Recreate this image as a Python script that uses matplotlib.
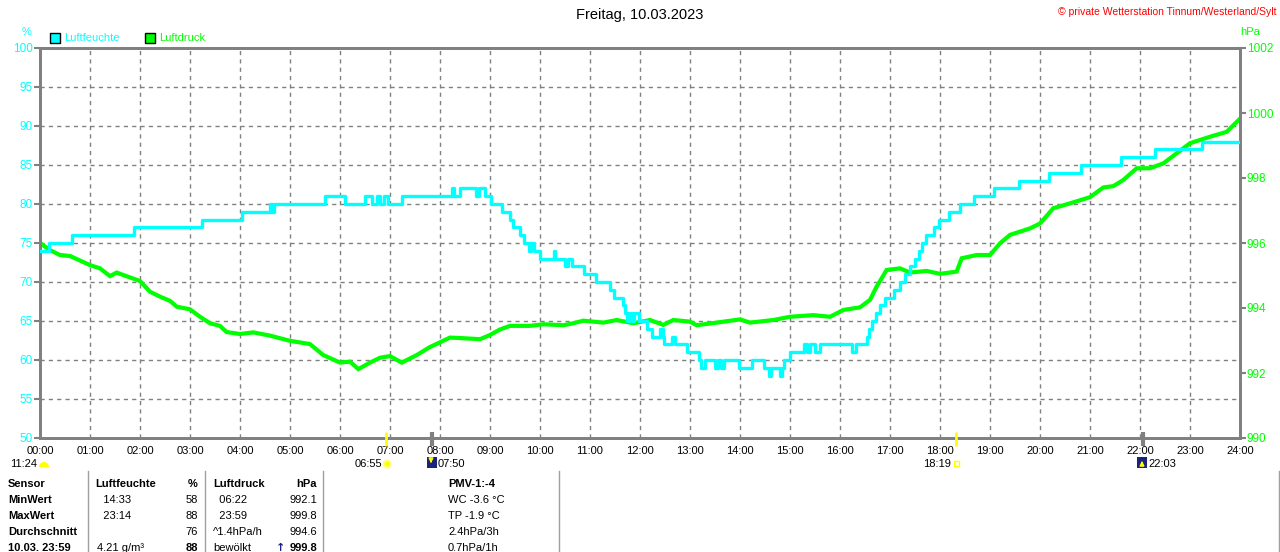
import matplotlib
matplotlib.use("Agg")
import matplotlib.pyplot as plt
from matplotlib.patches import Rectangle, Circle, Wedge

plt.rcParams['font.family'] = ['Liberation Sans', 'DejaVu Sans']

# === Daten: Luftfeuchte (Stufen, Zeit in Stunden) ===
feuchte_zeit = [0.0, 0.17, 0.63, 1.87, 3.23, 4.03, 4.6, 4.63, 4.68, 5.7, 6.1, 6.5, 6.63,
                6.73, 6.8, 6.87, 6.95, 7.23, 8.23, 8.27, 8.4, 8.72, 8.77, 8.9, 9.03,
                9.23, 9.4, 9.45, 9.6, 9.67, 9.78, 9.82, 9.87, 10.0, 10.27, 10.3, 10.5,
                10.55, 10.63, 10.87, 11.11, 11.4, 11.47, 11.65, 11.7, 11.73, 11.78,
                11.83, 11.88, 11.97, 12.13, 12.23, 12.4, 12.45, 12.47, 12.63, 12.7,
                12.93, 13.17, 13.22, 13.3, 13.5, 13.55, 13.62, 13.68, 13.97, 14.23,
                14.47, 14.57, 14.62, 14.8, 14.84, 14.87, 15.0, 15.27, 15.33, 15.4,
                15.5, 15.6, 15.73, 16.23, 16.33, 16.53, 16.58, 16.65, 16.72, 16.8,
                16.89, 17.07, 17.2, 17.3, 17.4, 17.5, 17.57, 17.63, 17.72, 17.87,
                17.99, 18.17, 18.39, 18.67, 19.08, 19.57, 20.17, 20.81, 21.62, 22.3,
                23.23, 23.98]
feuchte_wert = [74, 75, 76, 77, 78, 79, 80, 79, 80, 81, 80, 81, 80,
                81, 80, 81, 80, 81, 82, 81, 82, 81, 82, 81, 80,
                79, 78, 77, 76, 75, 74, 75, 74, 73, 74, 73, 72,
                73, 72, 71, 70, 69, 68, 67, 66, 65, 66,
                65, 66, 65, 64, 63, 64, 63, 62, 63, 62,
                61, 60, 59, 60, 59, 60, 59, 60, 59, 60,
                59, 58, 59, 58, 59, 60, 61, 62, 61, 62,
                61, 62, 62, 61, 62, 63, 64, 65, 66, 67,
                68, 69, 70, 71, 72, 73, 74, 75, 76, 77,
                78, 79, 80, 81, 82, 83, 84, 85, 86, 87,
                88, 88]

# === Daten: Luftdruck ===
druck_zeit = ["00:00", "00:12", "00:24", "00:36", "00:48", "01:00", "01:12", "01:24",
              "01:32", "01:48", "02:00", "02:12", "02:24", "02:36", "02:44", "03:00",
              "03:12", "03:24", "03:36", "03:44", "04:00", "04:16", "04:36", "05:00",
              "05:24", "05:40", "06:00", "06:12", "06:22", "06:36", "06:48", "07:00",
              "07:14", "07:32", "07:48", "08:12", "08:28", "08:48", "09:00", "09:12",
              "09:24", "09:48", "10:04", "10:28", "10:40", "10:52", "11:16", "11:32",
              "11:52", "12:12", "12:28", "12:40", "13:00", "13:08", "13:32", "14:00",
              "14:12", "14:40", "15:00", "15:28", "15:48", "16:04", "16:24", "16:36",
              "16:44", "16:56", "17:12", "17:24", "17:44", "18:00", "18:20", "18:26",
              "18:44", "19:00", "19:12", "19:24", "19:48", "20:00", "20:16", "20:36",
              "21:00", "21:16", "21:28", "21:40", "21:56", "22:12", "22:28", "22:44",
              "23:00", "23:24", "23:44", "23:59"]
druck_wert = [996.0, 995.78, 995.63, 995.6, 995.46, 995.32, 995.22, 994.98,
              995.09, 994.94, 994.83, 994.5, 994.35, 994.22, 994.04, 993.96,
              993.73, 993.53, 993.45, 993.26, 993.2, 993.25, 993.15, 992.99,
              992.89, 992.55, 992.32, 992.35, 992.12, 992.32, 992.47, 992.52,
              992.32, 992.55, 992.8, 993.09, 993.07, 993.04, 993.17, 993.34,
              993.45, 993.45, 993.5, 993.47, 993.53, 993.61, 993.55, 993.63,
              993.53, 993.63, 993.48, 993.63, 993.58, 993.47, 993.55, 993.65,
              993.55, 993.63, 993.73, 993.78, 993.73, 993.94, 994.02, 994.25,
              994.66, 995.17, 995.22, 995.09, 995.14, 995.05, 995.12, 995.53,
              995.63, 995.63, 995.99, 996.25, 996.45, 996.6, 997.07, 997.22,
              997.41, 997.71, 997.75, 997.94, 998.3, 998.3, 998.45, 998.76,
              999.07, 999.27, 999.42, 999.8]

stunden_labels = ["%02d:00" % h for h in range(25)]
feuchte_ticks = list(range(50, 101, 5))
druck_ticks = list(range(990, 1003, 2))

# Sonne / Mond Ereignisse
ereignisse = [("06:55", "#FFFF00"), ("07:50", "#808080"), ("18:19", "#FFFF00"), ("22:03", "#808080")]

tabelle = [
    ["Sensor", "Luftfeuchte", "%", "Luftdruck", "hPa", "PMV-1:-4"],
    ["MinWert", "  14:33", "58", "  06:22", "992.1", "WC -3.6 °C"],
    ["MaxWert", "  23:14", "88", "  23:59", "999.8", "TP -1.9 °C"],
    ["Durchschnitt", "", "76", "^1.4hPa/h", "994.6", "2.4hPa/3h"],
    ["10.03. 23:59", "4.21 g/m³", "88", "bewölkt", "999.8", "0.7hPa/1h"],
]


def in_stunden(s):
    h, m = s.split(":")
    return int(h) + int(m) / 60


CYAN = "#00FFFF"
GRUEN = "#00FF00"
GRAU = "#808080"

fig = plt.figure(figsize=(12.8, 5.52), dpi=100)
rect = [40 / 1280, 114 / 552, 1200 / 1280, 390 / 552]

# === Achse Luftfeuchte (Gitter + Ticks) ===
ax = fig.add_axes(rect)
ax.set_xlim(0, 24)
ax.set_ylim(50, 100)
ax.set_xticks(range(25))
ax.set_xticklabels(stunden_labels, fontsize=8)
ax.set_yticks(feuchte_ticks)
ax.set_yticklabels([str(v) for v in feuchte_ticks], fontsize=8.5, color=CYAN)
ax.tick_params(axis="x", length=0, pad=6)
ax.tick_params(axis="y", length=4, width=1.5, color=GRAU, pad=1)
ax.grid(True, color=GRAU, linestyle=(0, (3, 3)), linewidth=1)
for sp in ax.spines.values():
    sp.set_color(GRAU)
    sp.set_linewidth(2)

# === Achse Luftdruck ===
ax2 = ax.twinx()
ax2.set_ylim(990, 1002)
ax2.set_yticks(druck_ticks)
ax2.set_yticklabels([str(v) for v in druck_ticks], fontsize=8.5, color=GRUEN)
ax2.tick_params(axis="y", length=4, width=1.5, color=GRAU, pad=1)
for sp in ax2.spines.values():
    sp.set_color(GRAU)
    sp.set_linewidth(2)
ax2.plot([in_stunden(t) for t in druck_zeit], druck_wert, color=GRUEN, linewidth=3.0,
         solid_joinstyle="miter")

# === Luftfeuchte-Linie oben drauf ===
ax3 = fig.add_axes(rect, sharex=ax)
ax3.set_ylim(50, 100)
ax3.axis("off")
ax3.patch.set_visible(False)
ax3.step(feuchte_zeit, feuchte_wert, where="post", color=CYAN, linewidth=2.4)

# Markierungen auf der Zeitachse
for t, c in ereignisse:
    ax3.plot([in_stunden(t)] * 2, [-0.02, 0.015], color=c,
             linewidth=2 if c != GRAU else 3, transform=ax3.get_xaxis_transform(),
             clip_on=False, solid_capstyle="butt")

# === Overlay in Pixelkoordinaten fuer Texte ===
ov = fig.add_axes([0, 0, 1, 1])
ov.set_xlim(0, 1280)
ov.set_ylim(552, 0)
ov.axis("off")
ov.patch.set_visible(False)

ov.text(640, 15, "Freitag, 10.03.2023", ha="center", va="center", fontsize=10.5)
ov.text(1277, 12, "© private Wetterstation Tinnum/Westerland/Sylt", ha="right", va="center",
        fontsize=7.5, color="#FF0000")
ov.text(27, 32, "%", ha="center", va="center", fontsize=8, color=CYAN)
ov.text(1250, 32, "hPa", ha="center", va="center", fontsize=8, color=GRUEN)

ov.add_patch(Rectangle((50, 33), 10, 10, facecolor=CYAN, edgecolor="black", linewidth=1))
ov.text(64, 38, "Luftfeuchte", va="center", fontsize=8, color=CYAN)
ov.add_patch(Rectangle((145, 33), 10, 10, facecolor=GRUEN, edgecolor="black", linewidth=1))
ov.text(159, 38, "Luftdruck", va="center", fontsize=8, color=GRUEN)

# Sonnenauf-/untergang, Mond
ov.text(10, 464, "11:24", va="center", fontsize=8)
ov.add_patch(Wedge((44, 467), 5, 180, 360, facecolor="#FFFF00", edgecolor="none"))
ov.text(382, 464, "06:55", ha="right", va="center", fontsize=8)
ov.add_patch(Circle((387, 464), 3.5, facecolor="#FFFF00", edgecolor="#FFFF80", linewidth=1.5))
ov.add_patch(Rectangle((427, 457), 10, 11, facecolor="#1A237E", edgecolor="none"))
ov.annotate("", xy=(431, 466), xytext=(431, 458),
            arrowprops=dict(arrowstyle="-|>", color="#FFFF00", lw=1.2, mutation_scale=6))
ov.text(438, 464, "07:50", va="center", fontsize=8)
ov.text(951, 464, "18:19", ha="right", va="center", fontsize=8)
ov.add_patch(Rectangle((954, 461), 5, 5, facecolor="none", edgecolor="#FFFF00", linewidth=1))
ov.add_patch(Rectangle((1137, 457), 10, 11, facecolor="#1A237E", edgecolor="none"))
ov.annotate("", xy=(1142, 458), xytext=(1142, 467),
            arrowprops=dict(arrowstyle="-|>", color="#FFFF00", lw=1.2, mutation_scale=6))
ov.text(1148, 464, "22:03", va="center", fontsize=8)

# === Tabelle unten ===
for x in [88, 205, 323, 559, 1279]:
    ov.plot([x, x], [471, 552], color="#A0A0A0", linewidth=1)

spalten = [(8, "left"), (95, "left"), (198, "right"), (213, "left"), (317, "right"), (448, "left")]
zeilen_y = [484, 500, 516, 532, 548]
for r, zeile in enumerate(tabelle):
    for c, text in enumerate(zeile):
        x, ha = spalten[c]
        fett = r == 0 or c == 0 or (r == 4 and c in (2, 4))
        if r > 0 and c == 1 and text.strip():
            x = 97
        if r == 4 and c == 4:
            ov.text(x - 32, zeilen_y[r], "↑", ha="right", va="center", fontsize=8,
                    color="#1A237E", fontweight="bold", family=["DejaVu Sans"])
        ov.text(x, zeilen_y[r], text, ha=ha, va="center", fontsize=8,
                fontweight="bold" if fett else "normal")

fig.savefig("out.png", dpi=100)
